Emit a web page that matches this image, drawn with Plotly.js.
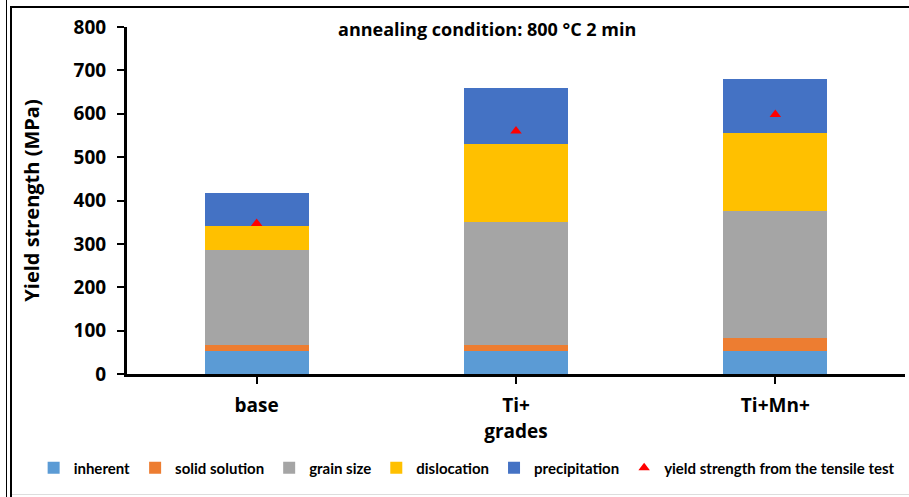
<!DOCTYPE html>
<html>
<head>
<meta charset="utf-8">
<script src="https://cdn.plot.ly/plotly-3.0.1.min.js"></script>
<style>
  body { margin: 0; background: #fff; }
  #wrap { position: relative; width: 909px; height: 497px; }
  #chart { width: 909px; height: 497px; }
  .edge { position: absolute; background: #000; }
</style>
</head>
<body>
<div id="wrap">
  <div id="chart"></div>
  <div class="edge" style="left:6px;top:0;width:1px;height:497px;"></div>
  <div class="edge" style="left:10px;top:6px;width:2px;height:491px;"></div>
  <div class="edge" style="left:10px;top:6px;width:899px;height:2px;"></div>
  <div class="edge" style="left:12px;top:494px;width:897px;height:1px;background:#ddd;"></div>
</div>
<script>
// grades on the x axis
let grades = ["base", "Ti+", "Ti+Mn+"];

// strengthening contributions (MPa)
let inherent = [53, 53, 53];
let solidSolution = [15, 15, 31];
let grainSize = [217, 283, 292];
let dislocation = [56, 180, 180];
let precipitation = [77, 129, 123];

// measured yield strength from the tensile test
let tensile = [347, 560, 598];

let fontFam = "'Open Sans', Lato, sans-serif";

function barTrace(name, values, color) {
    return {
        type: "bar",
        name: name,
        x: grades,
        y: values,
        marker: { color: color, line: { width: 0 } },
        hoverinfo: "name+y"
    };
}

let data = [
    barTrace("inherent", inherent, "#5B9BD5"),
    barTrace("solid solution", solidSolution, "#ED7D31"),
    barTrace("grain size", grainSize, "#A5A5A5"),
    barTrace("dislocation", dislocation, "#FFC000"),
    barTrace("precipitation", precipitation, "#4472C4"),
    {
        type: "scatter",
        mode: "markers",
        name: "yield strength from the tensile test",
        x: grades,
        y: tensile,
        marker: { symbol: "triangle-up", size: 10, color: "#FF0000" }
    }
];

let layout = {
    width: 909,
    height: 497,
    margin: { l: 127, r: 4, t: 27, b: 123 },
    paper_bgcolor: "rgba(0,0,0,0)",
    plot_bgcolor: "rgba(0,0,0,0)",
    barmode: "stack",
    bargap: 0.6,
    font: { family: fontFam, color: "#000" },
    title: {
        text: "<b>annealing condition: 800 °C 2 min</b>",
        font: { family: fontFam, size: 18, color: "#000" },
        xref: "paper",
        x: 0.463,
        xanchor: "center",
        yref: "container",
        y: 0.94,
        yanchor: "middle"
    },
    xaxis: {
        type: "category",
        showline: true,
        linecolor: "#000",
        linewidth: 3,
        ticks: "outside",
        ticklen: 7,
        tickwidth: 2,
        tickcolor: "#000",
        ticklabelstandoff: 5,
        tickfont: { family: fontFam, size: 19, color: "#000", weight: "bold" },
        showgrid: false,
        zeroline: false,
        title: {
            text: "<b>grades</b>",
            font: { family: fontFam, size: 19, color: "#000" },
            standoff: 6
        }
    },
    yaxis: {
        range: [0, 800],
        dtick: 100,
        showline: true,
        linecolor: "#000",
        linewidth: 3,
        ticks: "outside",
        ticklen: 7,
        tickwidth: 2,
        tickcolor: "#000",
        ticklabelstandoff: 7,
        tickfont: { family: fontFam, size: 19, color: "#000", weight: "bold" },
        showgrid: false,
        zeroline: false,
        title: {
            text: "<b>Yield strength (MPa)</b>",
            font: { family: fontFam, size: 20, color: "#000" },
            standoff: 29
        }
    },
    legend: {
        orientation: "h",
        x: -0.12,
        xanchor: "left",
        y: -0.271,
        yanchor: "middle",
        font: { family: "Lato, 'Open Sans', sans-serif", size: 15, color: "#000", weight: "bold" },
        itemwidth: 30,
        traceorder: "normal"
    },
    showlegend: true
};

Plotly.newPlot("chart", data, layout, { displayModeBar: false, staticPlot: true });
</script>
</body>
</html>
